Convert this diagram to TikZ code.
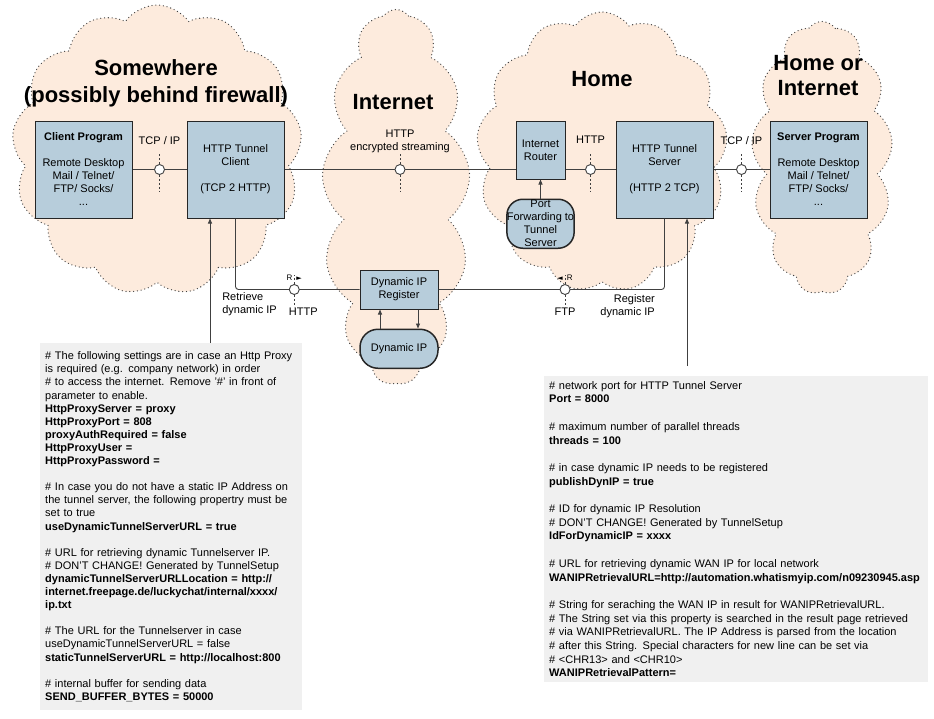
\documentclass[tikz,border=0pt]{standalone}
\usepackage{fontspec}
\setmainfont{Liberation Sans}
\newfontfamily\symfont{DejaVu Sans}
\usetikzlibrary{positioning,arrows.meta,shapes.symbols}

\definecolor{cloudfill}{HTML}{FDEBDD}
\definecolor{unitfill}{HTML}{B7CDDB}
\definecolor{notefill}{HTML}{F0F0F0}
\definecolor{wire}{HTML}{404040}

\begin{document}
\begin{tikzpicture}[
  x=1pt, y=-1pt,
  font=\fontsize{11}{13}\selectfont,
  cloudy/.style={
    cloud, cloud puffs=13, cloud puff arc=110, cloud ignores aspect,
    draw=wire, line width=1.3pt, dash pattern=on 0pt off 3.8pt, line cap=round,
    fill=cloudfill, inner sep=0pt
  },
  region/.style={font=\fontsize{22}{27}\selectfont\bfseries, align=center},
  unit/.style={
    draw=black!85,
    fill=unitfill,
    line width=1pt,
    align=center,
    inner sep=0pt,
    minimum width=97pt,
    minimum height=97pt
  },
  pill/.style={unit, rounded corners=16pt, line width=1.5pt},
  port/.style={circle, draw=wire, fill=white, line width=0.9pt, minimum size=10pt, inner sep=0pt},
  link/.style={draw=wire, line width=0.9pt},
  tick/.style={draw=wire, line width=0.9pt, dash pattern=on 2pt off 2pt},
  arrow/.style={link, -{Triangle[length=5pt, width=4pt]}},
  lbl/.style={inner sep=1pt, align=center},
  flag/.style={inner sep=0pt, font=\fontsize{8}{9}\selectfont},
  note/.style={fill=notefill, align=left, inner sep=5pt, anchor=north west},
  node distance=19pt and 54pt
]

\useasboundingbox (0,0) rectangle (934,718);

\node[cloudy, minimum width=290pt, minimum height=290pt] (somewhere) at (157,150) {};
\node[cloudy, minimum width=148pt, minimum height=375pt] (internet) at (396,197) {};
\node[cloudy, minimum width=251pt, minimum height=280pt] (home) at (602,152) {};
\node[cloudy, minimum width=141pt, minimum height=273pt] (remote) at (822,158) {};

\node[region] (somewheretitle) at (156,83.5) {Somewhere\\(possibly behind firewall)};
\node[region] (internettitle) at (393,102) {Internet};
\node[region] (hometitle) at (602,79) {Home};
\node[region, font=\fontsize{22}{25}\selectfont\bfseries] (remotetitle) at (818,75.5) {Home or\\Internet};

\node[unit] (client) at (83.5,169.5) {\textbf{Client Program}\\[13pt]Remote Desktop\\Mail / Telnet/\\FTP/ Socks/\\...};

\node[unit, right=of client] (tunnelc) {HTTP Tunnel\\Client\\[13pt](TCP 2 HTTP)};

\node[unit, minimum width=49pt, minimum height=58pt, right=231pt of tunnelc.north east, anchor=north west] (router) {Internet\\Router};

\node[unit, right=50pt of router.north east, anchor=north west] (tunnels) {HTTP Tunnel\\Server\\[13pt](HTTP 2 TCP)};

\node[unit, right=56pt of tunnels] (serverp) {\textbf{Server Program}\\[13pt]Remote Desktop\\Mail / Telnet/\\FTP/ Socks/\\...};

\node[pill, minimum width=67pt, minimum height=49pt, below=of router] (portfwd) {Port\\Forwarding to\\Tunnel\\Server};

\node[unit, minimum width=78pt, minimum height=39pt] (dynreg) at (399,289.5) {Dynamic IP\\Register};

\node[pill, minimum width=78pt, minimum height=39pt, rounded corners=18pt, below=of dynreg] (dynip) {Dynamic IP};

\draw[link] (client) -- node[port] (tcpc) {} (tunnelc);
\draw[link] (tunnelc) -- node[port] (enc) {} (tunnelc -| router.west);
\draw[link] (router.east |- tunnels) -- node[port] (rhttp) {} (tunnels);
\draw[link] (tunnels) -- node[port] (tcps) {} (serverp);

\draw[link, rounded corners=3pt] (tunnelc) |- node[port, pos=0.737] (rget) {} (dynreg);
\draw[link, rounded corners=3pt] (dynreg) -| node[port, pos=0.28] (rftp) {} (tunnels);

\foreach \p in {tcpc,enc,rhttp,tcps} {
  \draw[tick] (\p.north) -- ++(0,-11);
  \draw[tick] (\p.south) -- ++(0,17);
}
\foreach \p in {rget,rftp} {
  \draw[tick] (\p.north) -- ++(0,-9);
  \draw[tick] (\p.south) -- ++(0,12);
}

\node[lbl, above=18pt of tcpc] (tcpclbl) {TCP / IP};
\node[lbl, above=10pt of enc] (enclbl) {HTTP\\encrypted streaming};
\node[lbl, above=19pt of rhttp] (rhttplbl) {HTTP};
\node[lbl, above=18pt of tcps] (tcpslbl) {TCP / IP};

\node[flag, above=3pt of rget] (rgetflag) {R\hspace{4pt}{\symfont\fontsize{7}{7}\selectfont ►}};
\node[flag, above=3pt of rftp] (rftpflag) {{\symfont\fontsize{7}{7}\selectfont ◄}\hspace{4pt}R};
\node[lbl, below=12pt of rget, xshift=9pt] (rgetlbl) {HTTP};
\node[lbl, below=12pt of rftp] (rftplbl) {FTP};
\node[lbl, align=left, font=\fontsize{11}{13.5}\selectfont] (getlbl) at (249.5,304) {Retrieve\\dynamic IP};
\node[lbl, align=right, anchor=east, font=\fontsize{11}{13.5}\selectfont] (putlbl) at (656,306) {Register\\dynamic IP};

\draw[arrow] (portfwd) -- (router);
\draw[arrow] ([xshift=-19pt]dynip.north) -- ([xshift=-19pt]dynreg.south);
\draw[arrow] ([xshift=19pt]dynreg.south) -- ([xshift=19pt]dynip.north);

\node[note, minimum width=262pt, minimum height=367pt, text width=252pt, font=\fontsize{11}{13.1}\selectfont] (proxycfg) at (40,343) {%
\# The following settings are in case an Http Proxy\\
is required (e.g. company network) in order\\
\# to access the internet. Remove '\#' in front of\\
parameter to enable.\\
\textbf{HttpProxyServer = proxy}\\
\textbf{HttpProxyPort = 808}\\
\textbf{proxyAuthRequired = false}\\
\textbf{HttpProxyUser =}\\
\textbf{HttpProxyPassword =}\\[13.1pt]
\# In case you do not have a static IP Address on\\
the tunnel server, the following propertry must be\\
set to true\\
\textbf{useDynamicTunnelServerURL = true}\\[13.1pt]
\# URL for retrieving dynamic Tunnelserver IP.\\
\# DON'T CHANGE! Generated by TunnelSetup\\
\textbf{dynamicTunnelServerURLLocation = http://}\\
\textbf{internet.freepage.de/luckychat/internal/xxxx/}\\
\textbf{ip.txt}\\[13.1pt]
\# The URL for the Tunnelserver in case\\
useDynamicTunnelServerURL = false\\
\textbf{staticTunnelServerURL = http://localhost:800}\\[13.1pt]
\# internal buffer for sending data\\
\textbf{SEND\_BUFFER\_BYTES = 50000}};

\node[note, minimum width=384pt, minimum height=306pt, text width=374pt, font=\fontsize{11}{13.7}\selectfont] (servercfg) at (544,376) {%
\# network port for HTTP Tunnel Server\\
\textbf{Port = 8000}\\[13.7pt]
\# maximum number of parallel threads\\
\textbf{threads = 100}\\[13.7pt]
\# in case dynamic IP needs to be registered\\
\textbf{publishDynIP = true}\\[13.7pt]
\# ID for dynamic IP Resolution\\
\# DON'T CHANGE! Generated by TunnelSetup\\
\textbf{IdForDynamicIP = xxxx}\\[13.7pt]
\# URL for retrieving dynamic WAN IP for local network\\
\textbf{WANIPRetrievalURL=http://automation.whatismyip.com/n09230945.asp}\\[13.7pt]
\# String for seraching the WAN IP in result for WANIPRetrievalURL.\\
\# The String set via this property is searched in the result page retrieved\\
\# via WANIPRetrievalURL. The IP Address is parsed from the location\\
\# after this String. Special characters for new line can be set via\\
\# <CHR13> and <CHR10>\\
\textbf{WANIPRetrievalPattern=}};

\coordinate (cfgc) at (210,0);
\coordinate (cfgs) at (687,0);
\draw[arrow] (proxycfg.north -| cfgc) -- (tunnelc.south -| cfgc);
\draw[arrow] ([yshift=10pt]servercfg.north -| cfgs) -- (tunnels.south -| cfgs);

\end{tikzpicture}
\end{document}
